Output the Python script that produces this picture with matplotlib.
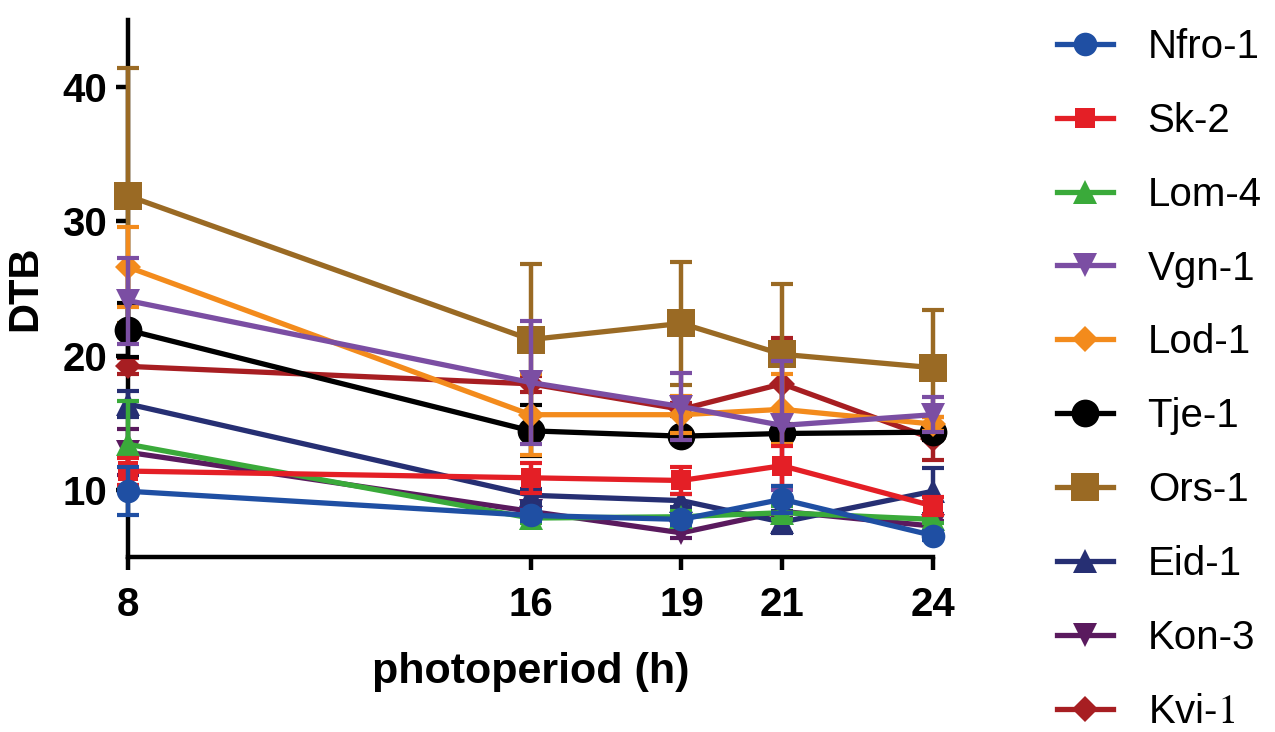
import numpy as np
import matplotlib
matplotlib.use("Agg")
import matplotlib.pyplot as plt
from matplotlib.lines import Line2D

plt.rcParams['font.family'] = ['Liberation Sans', 'DejaVu Sans']
plt.rcParams['mathtext.fontset'] = 'stix'

# photoperiod (h)
photoperiod = [8, 16, 19, 21, 24]

names = ['Nfro-1', 'Sk-2', 'Lom-4', 'Vgn-1', 'Lod-1',
         'Tje-1', 'Ors-1', 'Eid-1', 'Kon-3', 'Kvi-$\\mathrm{1}$']

nfro_1 = [9.9, 8.1, 7.8, 9.3, 6.6]
sk_2 = [11.4, 10.9, 10.7, 11.8, 8.8]
lom_4 = [13.4, 7.9, 8.0, 8.3, 7.8]
vgn_1 = [24.1, 18.0, 16.2, 14.8, 15.6]
lod_1 = [26.6, 15.6, 15.6, 16.0, 14.9]
tje_1 = [21.9, 14.4, 14.0, 14.2, 14.3]
ors_1 = [31.9, 21.2, 22.4, 20.1, 19.1]
eid_1 = [16.4, 9.6, 9.2, 7.6, 9.9]
kon_3 = [12.8, 8.4, 6.8, 8.4, 7.3]
kvi_1 = [19.2, 17.9, 16.0, 17.9, 13.8]

nfro_1_err = [1.8, 0.4, 0.4, 1.0, 0.3]
sk_2_err = [1.0, 1.1, 1.0, 1.5, 0.7]
lom_4_err = [3.2, 0.4, 0.4, 0.5, 0.3]
vgn_1_err = [3.2, 4.6, 2.5, 4.8, 1.3]
lod_1_err = [3.0, 3.0, 1.4, 2.6, 0.5]
tje_1_err = [2.0, 1.9, 0.3, 0.5, 0.6]
ors_1_err = [9.5, 5.6, 4.6, 5.2, 4.3]
eid_1_err = [1.0, 0.5, 0.5, 0.8, 1.7]
kon_3_err = [1.7, 0.4, 0.4, 0.5, 0.4]
kvi_1_err = [0.6, 0.6, 0.5, 3.4, 1.6]

values = [nfro_1, sk_2, lom_4, vgn_1, lod_1, tje_1, ors_1, eid_1, kon_3, kvi_1]
errors = [nfro_1_err, sk_2_err, lom_4_err, vgn_1_err, lod_1_err,
          tje_1_err, ors_1_err, eid_1_err, kon_3_err, kvi_1_err]

colors = ['#1f4fa3', '#e41f26', '#3aaa3a', '#7b4ea3', '#f38b1c',
          '#000000', '#9a6a24', '#262f73', '#5a1a5e', '#a71e22']
markers = ['o', 's', '^', 'v', 'D', 'o', 's', '^', 'v', 'D']
msizes = [17, 15, 17, 17, 13, 20, 20, 17, 17, 13]

fig = plt.figure(figsize=(12.75, 7.32), dpi=100)
ax = fig.add_axes([128/1275, 1-557/732, (933-128)/1275, (557-20)/732])

handles = []
for i in range(len(names)):
    line, caps, bars = ax.errorbar(photoperiod, values[i], yerr=errors[i],
                                   color=colors[i], marker=markers[i], ms=msizes[i],
                                   lw=3.8, elinewidth=3.2, capsize=8, capthick=3,
                                   zorder=20-i)
    line.set_markeredgewidth(0)
    line.set_clip_on(False)
    for c in caps:
        c.set_clip_on(False)
    for b in bars:
        b.set_clip_on(False)
    handles.append(Line2D([], [], color=colors[i], marker=markers[i],
                          ms=msizes[i], mew=0, lw=3.8, label=names[i]))

ax.set_xlim(8, 24)
ax.set_ylim(5, 45)
ax.set_xticks(photoperiod)
ax.set_yticks([10, 20, 30, 40])
for s in ['top', 'right']:
    ax.spines[s].set_visible(False)
for s in ['left', 'bottom']:
    ax.spines[s].set_linewidth(3.2)
ax.tick_params(width=3.2, length=9, labelsize=29, pad=6)
ax.tick_params(axis='x', pad=12)
for t in ax.get_xticklabels() + ax.get_yticklabels():
    t.set_fontweight('bold')

ax.set_xlabel('photoperiod (h)', fontsize=31, fontweight='bold', labelpad=20)
ax.set_ylabel('DTB', fontsize=30, fontweight='bold', labelpad=12)

fig.legend(handles=handles, loc='upper left', bbox_to_anchor=(1057/1275, 1-28/732),
           frameon=False, fontsize=29, handlelength=1.4, handletextpad=0.85,
           labelspacing=0.89, borderpad=0, borderaxespad=0, numpoints=1)

fig.savefig('out.png', dpi=100)
